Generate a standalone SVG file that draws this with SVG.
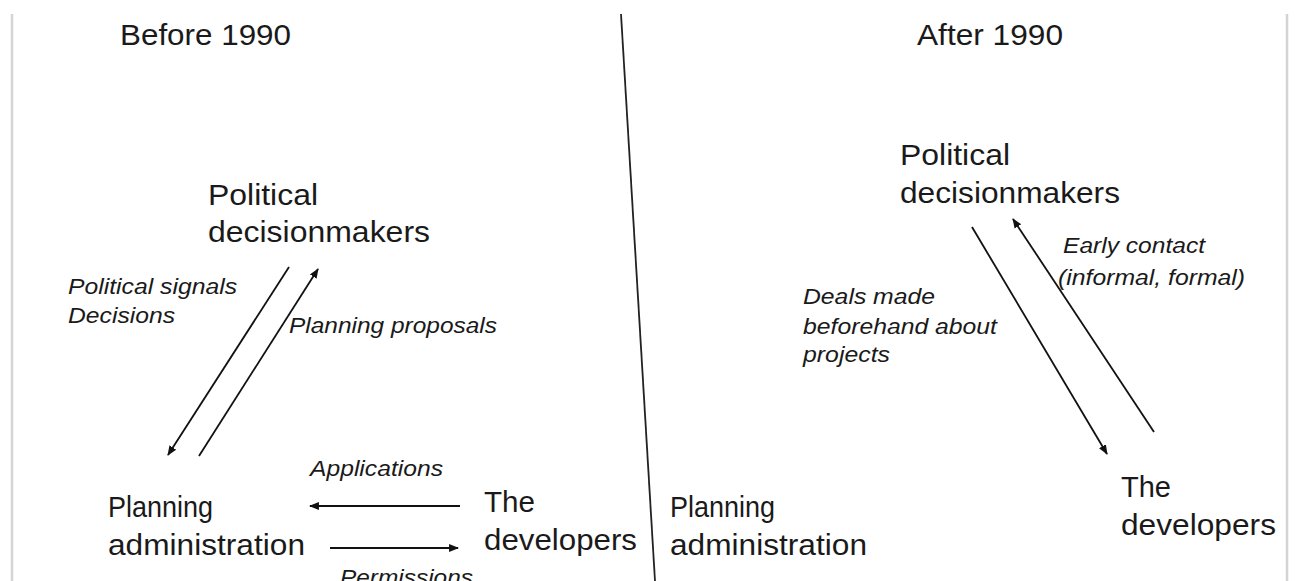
<svg xmlns="http://www.w3.org/2000/svg" width="1295" height="581" viewBox="0 0 1295 581">
<defs>
<marker id="ah" viewBox="0 0 10 10" refX="9" refY="5" markerWidth="5.5" markerHeight="5.5" orient="auto" markerUnits="strokeWidth">
<path d="M0,1 L10,5 L0,9 z" fill="#111"/>
</marker>
</defs>
<style>
.n{font-family:"Liberation Sans",Arial,sans-serif;font-size:30px;fill:#1a1a1a}
.l{font-family:"Liberation Sans",Arial,sans-serif;font-size:22px;font-style:italic;fill:#1a1a1a}
.c{stroke:#111;stroke-width:1.8;fill:none}
.b{stroke:#d4d4d4;stroke-width:2.5;fill:none}
</style>
<rect width="1295" height="581" fill="#fff"/>
<g id="frame">
<line class="b" x1="12" y1="14" x2="12" y2="581"/>
<line class="b" x1="1287" y1="14" x2="1287" y2="581"/>
<line x1="621" y1="14" x2="655" y2="581" stroke="#222" stroke-width="1.8"/>
</g>
<g id="titles">
<text class="n" x="120" y="45" textLength="171" lengthAdjust="spacingAndGlyphs">Before 1990</text>
<text class="n" x="917" y="45" textLength="146" lengthAdjust="spacingAndGlyphs">After 1990</text>
</g>
<g id="pol-before">
<text class="n" x="208" y="205" textLength="110" lengthAdjust="spacingAndGlyphs">Political</text>
<text class="n" x="208" y="242" textLength="222" lengthAdjust="spacingAndGlyphs">decisionmakers</text>
</g>
<g id="plan-before">
<text class="n" x="108" y="517" textLength="105" lengthAdjust="spacingAndGlyphs">Planning</text>
<text class="n" x="108" y="555" textLength="197" lengthAdjust="spacingAndGlyphs">administration</text>
</g>
<g id="dev-before">
<text class="n" x="484" y="512" textLength="51" lengthAdjust="spacingAndGlyphs">The</text>
<text class="n" x="484" y="550" textLength="153" lengthAdjust="spacingAndGlyphs">developers</text>
</g>
<g id="pol-after">
<text class="n" x="900" y="165" textLength="110" lengthAdjust="spacingAndGlyphs">Political</text>
<text class="n" x="900" y="203" textLength="220" lengthAdjust="spacingAndGlyphs">decisionmakers</text>
</g>
<g id="plan-after">
<text class="n" x="670" y="517" textLength="105" lengthAdjust="spacingAndGlyphs">Planning</text>
<text class="n" x="670" y="555" textLength="197" lengthAdjust="spacingAndGlyphs">administration</text>
</g>
<g id="dev-after">
<text class="n" x="1121" y="497" textLength="50" lengthAdjust="spacingAndGlyphs">The</text>
<text class="n" x="1121" y="535" textLength="155" lengthAdjust="spacingAndGlyphs">developers</text>
</g>
<g id="connectors">
<line class="c" x1="289" y1="267" x2="168" y2="455" marker-end="url(#ah)"/>
<line class="c" x1="199" y1="456" x2="318" y2="269" marker-end="url(#ah)"/>
<line class="c" x1="460" y1="506" x2="310" y2="506" marker-end="url(#ah)"/>
<line class="c" x1="330" y1="548" x2="458" y2="548" marker-end="url(#ah)"/>
<line class="c" x1="972" y1="227" x2="1107" y2="454" marker-end="url(#ah)"/>
<line class="c" x1="1154" y1="432" x2="1013" y2="219" marker-end="url(#ah)"/>
</g>
<g id="labels">
<text class="l" x="68" y="294" textLength="169" lengthAdjust="spacingAndGlyphs">Political signals</text>
<text class="l" x="68" y="323" textLength="107" lengthAdjust="spacingAndGlyphs">Decisions</text>
<text class="l" x="289" y="333" textLength="208" lengthAdjust="spacingAndGlyphs">Planning proposals</text>
<text class="l" x="310" y="476" textLength="133" lengthAdjust="spacingAndGlyphs">Applications</text>
<text class="l" x="340" y="585" textLength="133" lengthAdjust="spacingAndGlyphs">Permissions</text>
<text class="l" x="1063" y="253" textLength="142" lengthAdjust="spacingAndGlyphs">Early contact</text>
<text class="l" x="1058" y="285" textLength="187" lengthAdjust="spacingAndGlyphs">(informal, formal)</text>
<text class="l" x="803" y="304" textLength="132" lengthAdjust="spacingAndGlyphs">Deals made</text>
<text class="l" x="803" y="334" textLength="194" lengthAdjust="spacingAndGlyphs">beforehand about</text>
<text class="l" x="803" y="362" textLength="87" lengthAdjust="spacingAndGlyphs">projects</text>
</g>
</svg>
